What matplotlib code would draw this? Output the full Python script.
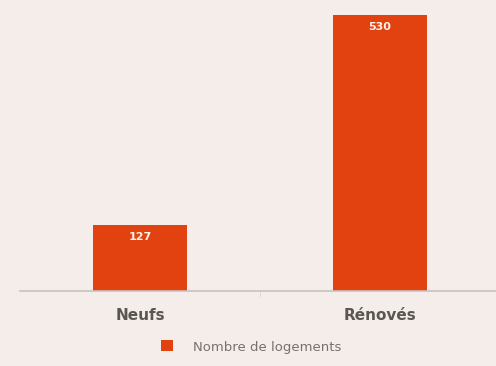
import numpy as np
import matplotlib.pyplot as plt

categories = ['Neufs', 'Rénovés']
logements = [127, 530]
series_name = 'Nombre de logements'

bg = '#f4ede9'
bar_color = '#e2420f'

fig = plt.figure(figsize=(4.96, 3.66), dpi=100, facecolor=bg)
ax = fig.add_axes([20 / 496, 1 - 291 / 366, 476 / 496, 291 / 366])
ax.set_facecolor(bg)

x = np.arange(len(categories))
bars = ax.bar(x, logements, width=0.39, color=bar_color, label=series_name, zorder=2)

for rect, v in zip(bars, logements):
    ax.text(rect.get_x() + rect.get_width() / 2, rect.get_height() - 24, str(v),
            ha='center', va='center', color='#fff4ee', fontsize=8, fontweight='bold')

ax.set_xlim(-0.5, 1.483)
ax.set_ylim(0, 530 * 291 / 276)

for s in ['top', 'right', 'left']:
    ax.spines[s].set_visible(False)
ax.spines['bottom'].set_color('#c9c1bd')
ax.spines['bottom'].set_linewidth(1.2)

ax.set_yticks([])
ax.set_xticks(x)
ax.set_xticklabels(categories, fontsize=11, fontweight='bold', color='#5a5654')
ax.tick_params(axis='x', length=0, pad=12)
ax.set_xticks([0.5], minor=True)
ax.tick_params(axis='x', which='minor', length=4, color='#dcd5d1')

leg = fig.legend(handles=[bars], labels=[series_name], loc='center',
                 bbox_to_anchor=(251 / 496, 1 - 347 / 366), frameon=False,
                 fontsize=9.5, handlelength=0.9, handleheight=0.9, handletextpad=1.5)
for t in leg.get_texts():
    t.set_color('#77716e')

fig.savefig('out.png', dpi=100, facecolor=bg)
